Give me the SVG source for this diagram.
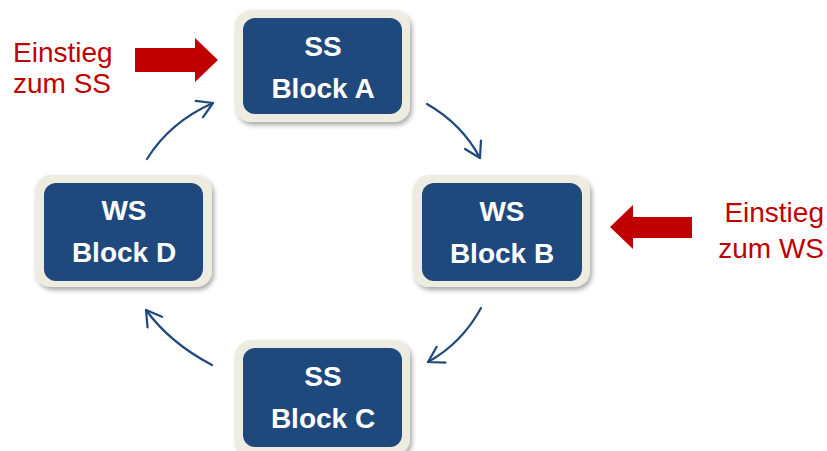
<svg xmlns="http://www.w3.org/2000/svg" width="827" height="451" viewBox="0 0 827 451">
<defs>
<filter id="sh" x="-10%" y="-10%" width="125%" height="130%">
<feGaussianBlur in="SourceAlpha" stdDeviation="2.5"/>
<feOffset dx="2" dy="3" result="b"/>
<feComponentTransfer><feFuncA type="linear" slope="0.35"/></feComponentTransfer>
<feMerge><feMergeNode/><feMergeNode in="SourceGraphic"/></feMerge>
</filter>
<marker id="ah" viewBox="0 0 20 20" refX="18" refY="10" markerWidth="20" markerHeight="20" markerUnits="userSpaceOnUse" orient="auto">
<path d="M3,1 L18,10 L3,19" fill="none" stroke="#1F497D" stroke-width="2.2" stroke-linecap="round" stroke-linejoin="round"/>
</marker>
</defs>
<style>
.frame{fill:#EEECE1;filter:url(#sh)}
.box{fill:#1F497D}
.lbl{font-family:"Liberation Sans",Arial,sans-serif;font-weight:bold;font-size:28px;fill:#FFFFFF;text-anchor:middle}
.red{font-family:"Liberation Sans",Arial,sans-serif;font-size:28px;fill:#C00000}
.con{fill:none;stroke:#1F497D;stroke-width:2.2;stroke-linecap:round;marker-end:url(#ah)}
.rarrow{fill:#C00000}
</style>
<rect width="827" height="451" fill="#FFFFFF"/>
<g id="blockA">
<rect class="frame" x="235" y="10" width="175" height="112" rx="16"/>
<rect class="box" x="243" y="18" width="159" height="96" rx="12"/>
<text class="lbl" x="323" y="56">SS</text>
<text class="lbl" x="323" y="98">Block A</text>
</g>
<g id="blockB">
<rect class="frame" x="413" y="175" width="177" height="112" rx="16"/>
<rect class="box" x="422" y="183" width="160" height="98" rx="12"/>
<text class="lbl" x="502" y="221">WS</text>
<text class="lbl" x="502" y="263">Block B</text>
</g>
<g id="blockC">
<rect class="frame" x="235" y="340" width="175" height="115" rx="16"/>
<rect class="box" x="243" y="348" width="159" height="99" rx="12"/>
<text class="lbl" x="323" y="386">SS</text>
<text class="lbl" x="323" y="428">Block C</text>
</g>
<g id="blockD">
<rect class="frame" x="35" y="175" width="177" height="112" rx="16"/>
<rect class="box" x="44" y="183" width="159" height="98" rx="12"/>
<text class="lbl" x="124" y="220">WS</text>
<text class="lbl" x="124" y="262">Block D</text>
</g>
<g id="entrySS">
<text class="red" x="13" y="62">Einstieg</text>
<text class="red" x="13" y="93">zum SS</text>
<polygon class="rarrow" points="135,48 195,48 195,38 218,60 195,82 195,72 135,72"/>
</g>
<g id="entryWS">
<text class="red" x="824" y="222" text-anchor="end">Einstieg</text>
<text class="red" x="824" y="258" text-anchor="end">zum WS</text>
<polygon class="rarrow" points="692,217 633,217 633,205 610,227 633,249 633,238 692,238"/>
</g>
<g id="connectors">
<path class="con" d="M427,104 Q462,124 480,158"/>
<path class="con" d="M481,308 Q462,343 428,362"/>
<path class="con" d="M212,365 Q170,343 146,310"/>
<path class="con" d="M147,159 Q170,122 213,103"/>
</g>
</svg>
